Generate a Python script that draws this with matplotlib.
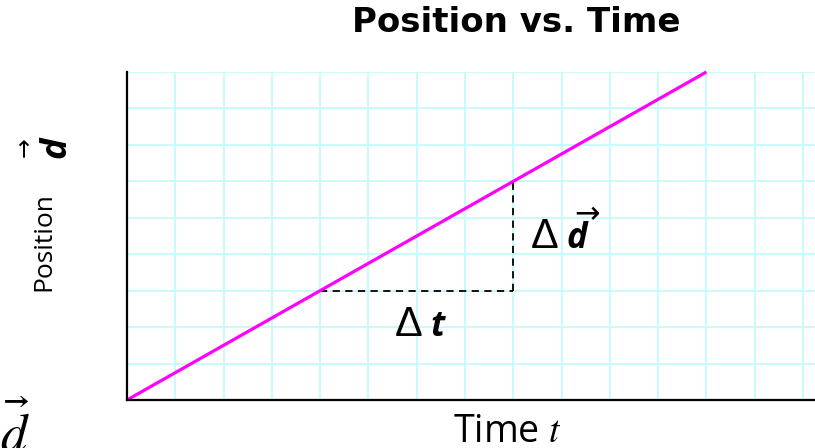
"""Position vs. Time diagram with slope triangle."""
import matplotlib
matplotlib.use("Agg")
import matplotlib.pyplot as plt
import numpy as np

# data (grid units)
time = [0, 12]
position = [0, 9]
t1, t2 = 4, 8          # start / end of the Δt leg
d1, d2 = 3, 6          # start / end of the Δd leg
x_max, y_max = 14.25, 9

plt.rcParams.update({
    "font.family": "Open Sans",
    "mathtext.fontset": "custom",
    "mathtext.rm": "Open Sans",
    "mathtext.it": "Open Sans:italic:bold",
    "mathtext.bf": "Open Sans:bold",
})

fig = plt.figure(figsize=(8.15, 4.48), dpi=100)
ax = fig.add_axes([127 / 815, 48 / 448, 688 / 815, 328 / 448])

ax.set_xlim(0, x_max)
ax.set_ylim(0, y_max)
ax.set_xticks(np.arange(0, 15, 1))
ax.set_yticks(np.arange(0, 10, 1))
ax.grid(True, color="#c4fafc", linewidth=1.3)
ax.set_axisbelow(True)
ax.tick_params(length=0, labelbottom=False, labelleft=False)
for side in ("top", "right"):
    ax.spines[side].set_visible(False)
for side in ("left", "bottom"):
    ax.spines[side].set_color("black")
    ax.spines[side].set_linewidth(1.6)
    ax.spines[side].set_zorder(5)

ax.plot(time, position, color="#ff00ff", linewidth=2.3, solid_capstyle="butt",
        clip_on=False, zorder=4)
ax.plot([t1, t2], [d1, d1], color="black", linestyle=(0, (4, 3)), linewidth=1.3, zorder=3)
ax.plot([t2, t2], [d1, d2], color="black", linestyle=(0, (4, 3)), linewidth=1.3, zorder=3)

sym = dict(family="Liberation Sans", fontsize=30, ha="left", va="baseline")
var = dict(fontsize=25, fontweight="bold", style="italic", ha="left", va="baseline")

# Δt label under the horizontal leg
ax.text(5.55, 1.76, "Δ", **sym)
ax.text(6.28, 1.76, "t", **var)
# Δd label right of the vertical leg, arrow drawn over the d
ax.text(8.37, 4.17, "Δ", **sym)
ax.text(9.10, 4.17, "d", **var)
ax.text(9.52, 5.08, "→", family="DejaVu Sans", fontsize=22, ha="center", va="center")

fig.text(516 / 815, 1 - 23 / 448, "Position vs. Time", fontsize=24.5,
         fontweight="bold", family="DejaVu Sans", ha="center", va="center")
fig.text(507 / 815, 6 / 448, r"Time $t$", fontsize=27, ha="center", va="baseline",
         math_fontfamily="stix")

# rotated y label: "Position" followed by vector d
fig.text(44 / 815, 1 - 242 / 448, "Position", fontsize=19,
         rotation=90, ha="center", va="center")
fig.text(56 / 815, 1 - 147 / 448, "d", fontsize=26, fontweight="bold", style="italic",
         rotation=90, ha="center", va="center")
fig.text(25 / 815, 1 - 147 / 448, "→", family="DejaVu Sans", fontsize=17,
         rotation=90, ha="center", va="center")

fig.text(0.0, -3 / 448, r"$\vec{d}$", fontsize=38, ha="left", va="baseline",
         math_fontfamily="stix")

fig.savefig("out.png", dpi=100)
